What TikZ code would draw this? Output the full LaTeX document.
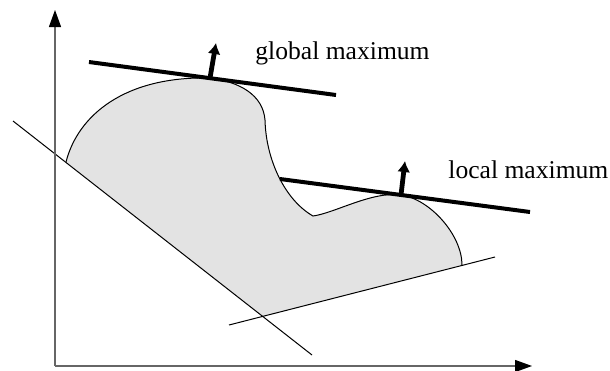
\documentclass[tikz,border=0pt]{standalone}
\usepackage{fontspec}
\setmainfont{Liberation Serif}
\usetikzlibrary{arrows.meta}

\begin{document}
\begin{tikzpicture}[x=0.5pt,y=-0.5pt,>={Triangle[length=8.5pt,width=6pt,color=black]},
    axis/.style={->,line width=0.6pt,draw=black!60},
    thinline/.style={line width=0.5pt},
    tangent/.style={line width=2pt},
    normal/.style={-{Latex[length=5.5pt,width=6.5pt]},line width=2.4pt},
    label/.style={anchor=base west,inner sep=0pt,font=\fontsize{12.8}{15}\selectfont}]
  \useasboundingbox (0,0) rectangle (610,370);
  % axes
  \coordinate (O) at (55,366);
  \coordinate (Y) at (55,10);
  \coordinate (X) at (532,366);
  % supporting lines
  \coordinate (A1) at (13,121);
  \coordinate (A2) at (312,355);
  \coordinate (B1) at (229,325);
  \coordinate (B2) at (495,257);
  \coordinate (P) at (intersection of A1--A2 and B1--B2);
  % tangent lines
  \coordinate (G1) at (89,62);
  \coordinate (G2) at (336,95);
  \coordinate (L1) at (280,179);
  \coordinate (L2) at (530,212);
  % points of the boundary
  \coordinate (S) at (66,162);
  \coordinate (G) at (210,78);
  \coordinate (W) at (265,120);
  \coordinate (D) at (313,216);
  \coordinate (L) at (401,195);
  \coordinate (E) at (462,265);
  \coordinate (GT) at (216,43);
  \coordinate (LT) at (405,161);
  % region
  \fill[black!11] (S) .. controls (78,115) and (125,76) .. (G)
    .. controls (240,82) and (263,95) .. (W)
    .. controls (266,160) and (285,200) .. (D)
    .. controls (335,213) and (372,191) .. (L)
    .. controls (430,199) and (462,235) .. (E) -- (P) -- cycle;
  \draw[thinline] (S) .. controls (78,115) and (125,76) .. (G)
    .. controls (240,82) and (263,95) .. (W)
    .. controls (266,160) and (285,200) .. (D)
    .. controls (335,213) and (372,191) .. (L)
    .. controls (430,199) and (462,235) .. (E);
  \draw[thinline] (A1)--(A2);
  \draw[thinline] (B1)--(B2);
  \draw[axis] (O)--(Y);
  \draw[axis] (O)--(X);
  \draw[tangent] (G1)--(G2);
  \draw[tangent] (L1)--(L2);
  \draw[normal] (G)--(GT);
  \draw[normal] (L)--(LT);
  \node[label] (gmax) at (255,59) {global maximum};
  \node[label] (lmax) at (448,178) {local maximum};
\end{tikzpicture}
\end{document}
